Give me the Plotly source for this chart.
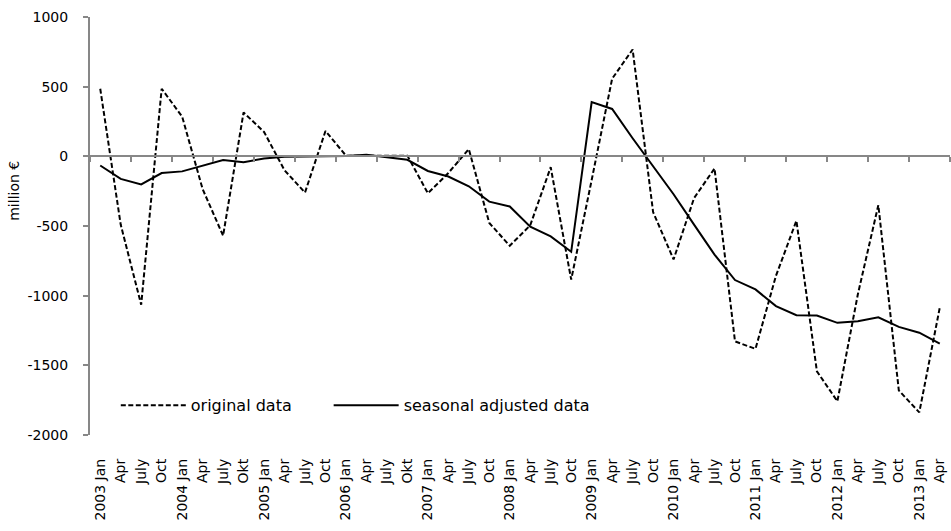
import plotly.graph_objects as go

tick_labels = [
    "2003 Jan", "Apr", "July", "Oct",
    "2004 Jan", "Apr", "July", "Okt",
    "2005 Jan", "Apr", "July", "Oct",
    "2006 Jan", "Apr", "July", "Okt",
    "2007 Jan", "Apr", "July", "Oct",
    "2008 Jan", "Apr", "July", "Oct",
    "2009 Jan", "Apr", "July", "Oct",
    "2010 Jan", "Apr", "July", "Oct",
    "2011 Jan", "Apr", "July", "Oct",
    "2012 Jan", "Apr", "July", "Oct",
    "2013 Jan", "Apr",
]

original_data = [
    485, -490, -1065, 485,
    285, -235, -570, 315,
    175, -100, -260, 182,
    5, 5, 5, 5,
    -265, -120, 52, -478,
    -642, -495, -78, -885,
    -170, 557, 767, -400,
    -740, -300, -87, -1328,
    -1382, -858, -462, -1543,
    -1758, -990, -350, -1680,
    -1838, -1086,
]

seasonal_adjusted = [
    -66, -162, -202, -120,
    -108, -68, -27, -42,
    -15, -3, 0, 0,
    2, 12, -8, -25,
    -105, -145, -215, -325,
    -360, -505, -575, -685,
    390, 340, 130, -72,
    -272, -490, -705, -888,
    -955, -1075, -1140, -1142,
    -1195, -1183, -1155, -1224,
    -1266, -1344,
]

y_ticks = [-2000, -1500, -1000, -500, 0, 500, 1000]
y_tick_text = [str(v) for v in y_ticks]

idx = list(range(len(tick_labels)))
n = len(idx)
axis_grey = "#878787"
font_family = "DejaVu Sans, sans-serif"

fig = go.Figure()
fig.add_trace(go.Scatter(
    x=idx, y=original_data, mode="lines", name="original data",
    line=dict(color="black", width=2, dash="5px,2.5px"), legend="legend",
))
fig.add_trace(go.Scatter(
    x=idx, y=seasonal_adjusted, mode="lines", name="seasonal adjusted data",
    line=dict(color="black", width=2), legend="legend2",
))
# invisible trace on xaxis2 to activate it
fig.add_trace(go.Scatter(x=[-0.5, n - 0.5], y=[None, None], xaxis="x2",
                         showlegend=False, hoverinfo="skip"))

legend_common = dict(
    orientation="h", yanchor="middle", xanchor="left", y=0.071,
    bgcolor="rgba(0,0,0,0)", font=dict(size=16), itemwidth=65,
)

fig.update_layout(
    width=951, height=531,
    margin=dict(l=90, r=1, t=17, b=96),
    paper_bgcolor="white", plot_bgcolor="white",
    font=dict(family=font_family, size=13, color="black"),
    showlegend=True,
    legend=dict(x=0.030, **legend_common),
    legend2=dict(x=0.2775, **legend_common),
    xaxis=dict(
        range=[-0.5, n - 0.5], tickmode="array", tickvals=idx, ticktext=tick_labels,
        tickangle=-90, showgrid=False, zeroline=False, showline=False,
        ticks="", ticklabelstandoff=20, tickfont=dict(size=14), automargin=False,
    ),
    xaxis2=dict(
        overlaying="x", anchor="free", position=2 / 3, side="bottom",
        range=[-0.5, n - 0.5], tickmode="array",
        tickvals=[i - 0.5 for i in range(0, n + 1, 2)],
        ticks="outside", ticklen=5, tickwidth=2, tickcolor=axis_grey,
        showticklabels=False, showgrid=False, zeroline=False,
        showline=True, linecolor=axis_grey, linewidth=2, automargin=False,
    ),
    yaxis=dict(
        range=[-2000, 1000], tickmode="array", tickvals=y_ticks, ticktext=y_tick_text,
        showgrid=False, zeroline=False, showline=True, linecolor=axis_grey,
        linewidth=2, ticks="outside", ticklen=5, tickwidth=2, tickcolor=axis_grey,
        ticklabelstandoff=12, tickfont=dict(size=14), automargin=False,
    ),
    annotations=[dict(
        text="million €", xref="paper", yref="paper",
        x=-0.088, y=0.585, xanchor="center", yanchor="middle",
        textangle=-90, showarrow=False, font=dict(size=14, color="black"),
    )],
)

fig.write_html("out.html", config={"displayModeBar": False},
               post_script="document.body.style.margin='0px';")
